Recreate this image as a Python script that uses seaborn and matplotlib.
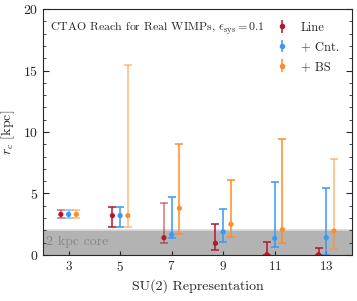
import matplotlib
matplotlib.use('Agg')
import matplotlib.pyplot as plt
import seaborn as sns
import numpy as np
import pandas as pd

# SU(2) representations and the three analysis setups
reps = [3, 5, 7, 9, 11, 13]
setups = ['Line', '+ Cnt.', '+ BS']

# central values of r_c [kpc]
rc_line = [3.3, 3.2, 1.4, 0.95, 0.02, 0.02]
rc_cnt = [3.3, 3.2, 1.65, 1.87, 1.35, 1.4]
rc_bs = [3.3, 3.2, 3.8, 2.5, 2.06, 1.95]

# upper / lower ends of the error bars [kpc]
hi_line = [3.63, 3.88, 4.2, 2.55, 1.03, 0.57]
lo_line = [2.98, 2.25, 0.98, 0.4, 0.0, 0.0]
hi_cnt = [3.63, 3.9, 4.74, 3.7, 5.96, 5.47]
lo_cnt = [2.98, 2.25, 1.38, 1.05, 0.63, 0.0]
hi_bs = [3.63, 15.45, 9.02, 6.1, 9.4, 7.83]
lo_bs = [2.98, 2.25, 1.68, 1.44, 0.95, 0.49]

core = 2.0

sns.set_style('ticks')
plt.rcParams['font.family'] = ['cmr10', 'DejaVu Serif']
plt.rcParams['mathtext.fontset'] = 'cm'
plt.rcParams['axes.unicode_minus'] = False
plt.rcParams['axes.formatter.use_mathtext'] = True

df = pd.DataFrame({
    'rep': reps * 3,
    'setup': np.repeat(setups, len(reps)),
    'rc': rc_line + rc_cnt + rc_bs,
    'hi': hi_line + hi_cnt + hi_bs,
    'lo': lo_line + lo_cnt + lo_bs,
})
offsets = {'Line': -0.3, '+ Cnt.': 0.0, '+ BS': 0.3}
df['x'] = df['rep'] + df['setup'].map(offsets)

colors = {'Line': '#B2182B', '+ Cnt.': '#3A98F2', '+ BS': '#FF8C2A'}
# a few bars in the original are drawn fainter
faint = {('Line', 3), ('+ Cnt.', 3), ('+ BS', 3), ('+ BS', 5), ('Line', 7), ('+ BS', 13)}

fig = plt.figure(figsize=(3.57, 3.01), dpi=100)
ax = fig.add_axes([0.120, 0.153, 0.866, 0.817])

ax.axhspan(0, core, color='#b3b3b3', lw=0, zorder=0)
ax.axhline(core, color='#d9d9d9', lw=1.2, zorder=0.5)
ax.text(2.12, 1.05, '2 kpc core', color='#888888', fontsize=10, va='center', ha='left')

handles = {}
for s in setups:
    d = df[df['setup'] == s]
    for _, r in d.iterrows():
        a = 0.6 if (s, r['rep']) in faint else 1.0
        ax.errorbar(r['x'], r['rc'],
                    yerr=[[r['rc'] - r['lo']], [r['hi'] - r['rc']]],
                    fmt='none', ecolor=colors[s], elinewidth=1.1,
                    capsize=3, capthick=1.1, alpha=a, zorder=2)
    handles[s] = ax.errorbar([], [], yerr=[], fmt='o', color=colors[s], ms=3,
                             elinewidth=1.1, capsize=3, capthick=1.1)

sns.scatterplot(data=df, x='x', y='rc', hue='setup', palette=colors,
                s=14, edgecolor='none', legend=False, ax=ax, zorder=3)

ax.set_xlim(2, 14)
ax.set_ylim(0, 20)
ax.set_xticks(reps)
ax.set_xticklabels([r'$\mathbf{%d}$' % r for r in reps], fontsize=9.5)
ax.set_yticks([0, 5, 10, 15, 20])
ax.set_yticks(np.arange(0, 21, 1), minor=True)
ax.tick_params(axis='y', which='both', direction='in', right=True, labelsize=10)
ax.tick_params(axis='y', which='major', length=4)
ax.tick_params(axis='y', which='minor', length=2)
ax.tick_params(axis='x', direction='in', length=3)
for sp in ax.spines.values():
    sp.set_visible(True)
    sp.set_linewidth(0.8)

ax.set_xlabel('SU(2) Representation', fontsize=10)
ax.set_ylabel(r'$r_c$ [kpc]', fontsize=10)

ax.text(0.024, 0.955, r'CTAO Reach for Real WIMPs, $\epsilon_{\rm sys} = 0.1$',
        transform=ax.transAxes, fontsize=8.6, va='top', ha='left')

ax.legend([handles[s] for s in setups], setups, loc='upper right', frameon=False,
          fontsize=9, handlelength=1.2, borderaxespad=0.6, labelspacing=0.6,
          handletextpad=0.9)

fig.savefig('out.png', dpi=100)
